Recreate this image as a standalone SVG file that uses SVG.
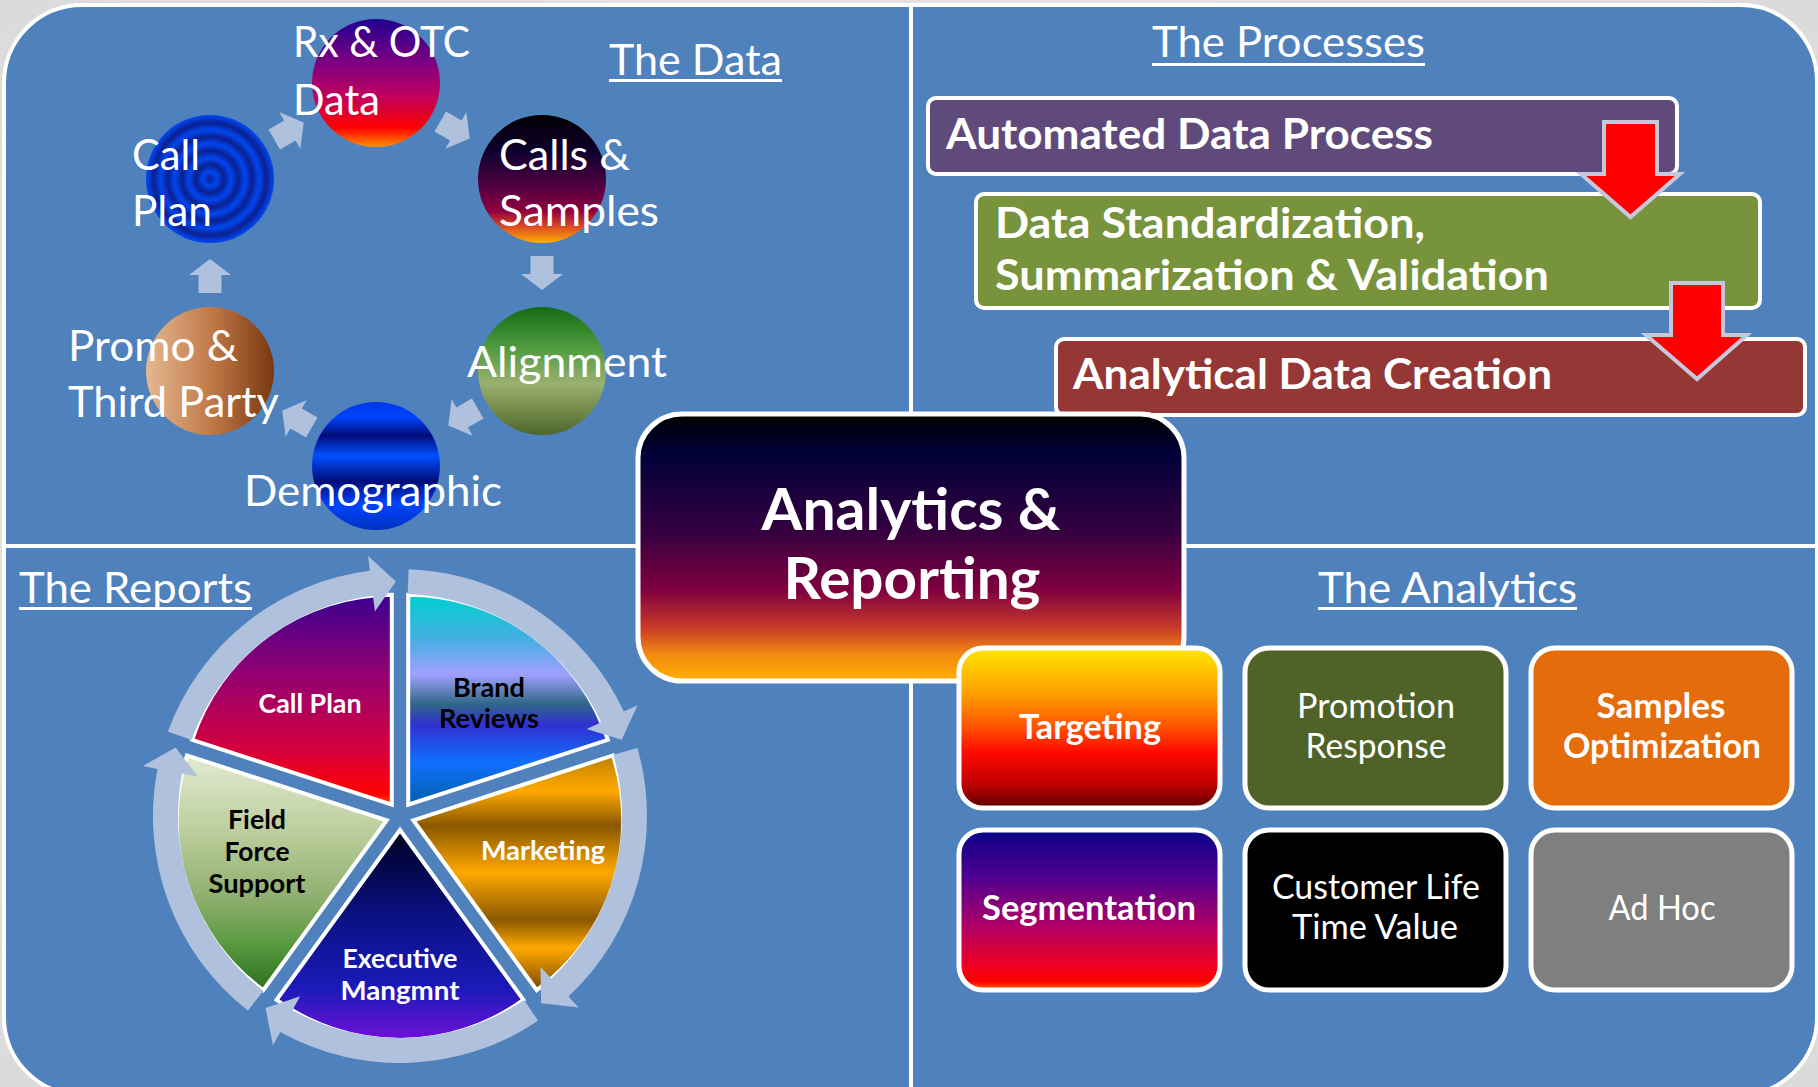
<svg xmlns="http://www.w3.org/2000/svg" width="1818" height="1087" viewBox="0 0 1818 1087">
<style>
.t{font-family:Lato,"Liberation Sans",sans-serif;fill:#fff}
.b{font-weight:bold}
.k{fill:#000}
.h{font-size:43px}
.c{font-size:42px}
.p{font-size:42px;font-weight:bold}
.a{font-size:34px}
.s{font-size:26px;font-weight:bold}
.panel{fill:#4F81BD;stroke:#fff;stroke-width:4}
.ul{stroke:#fff;stroke-width:3}
.carr{fill:#B0C1DD}
.ring{fill:#B0C1DD}
.seg{stroke:#fff;stroke-width:4}
.proc{stroke:#fff;stroke-width:4}
.rarr{fill:#FF0000;stroke:#C8C8DC;stroke-width:4}
.abox{stroke:#fff;stroke-width:5}
</style>
<defs>
<radialGradient id="bg" cx="0.5" cy="0.5" r="0.75">
<stop offset="0" stop-color="#f2f2f2"/><stop offset="1" stop-color="#d9d9d9"/>
</radialGradient>
<linearGradient id="gCentral" x1="0" y1="0" x2="0" y2="1">
<stop offset="0" stop-color="#000000"/><stop offset="0.15" stop-color="#000038"/><stop offset="0.45" stop-color="#380040"/><stop offset="0.66" stop-color="#800040"/><stop offset="0.8" stop-color="#c83a28"/><stop offset="0.9" stop-color="#f28a10"/><stop offset="1" stop-color="#ffb000"/>
</linearGradient>
<linearGradient id="gRx" x1="0" y1="0" x2="0" y2="1">
<stop offset="0" stop-color="#200090"/><stop offset="0.35" stop-color="#800080"/><stop offset="0.6" stop-color="#c00060"/><stop offset="0.85" stop-color="#ff0000"/><stop offset="1" stop-color="#ff9000"/>
</linearGradient>
<linearGradient id="gCalls" x1="0" y1="0" x2="0" y2="1">
<stop offset="0" stop-color="#000000"/><stop offset="0.3" stop-color="#100030"/><stop offset="0.55" stop-color="#500040"/><stop offset="0.75" stop-color="#900040"/><stop offset="0.88" stop-color="#e05020"/><stop offset="1" stop-color="#ffb000"/>
</linearGradient>
<linearGradient id="gAlign" x1="0" y1="0" x2="0" y2="1">
<stop offset="0" stop-color="#156a15"/><stop offset="0.3" stop-color="#4a9a3c"/><stop offset="0.6" stop-color="#9ab070"/><stop offset="1" stop-color="#4e6628"/>
</linearGradient>
<linearGradient id="gDemo" x1="0" y1="0" x2="0" y2="1">
<stop offset="0" stop-color="#0036e8"/><stop offset="0.12" stop-color="#0044ff"/><stop offset="0.26" stop-color="#000c7a"/><stop offset="0.42" stop-color="#0050ff"/><stop offset="0.62" stop-color="#000c7a"/><stop offset="0.8" stop-color="#0044ff"/><stop offset="1" stop-color="#0030c0"/>
</linearGradient>
<linearGradient id="gPromo" x1="0" y1="0" x2="1" y2="0">
<stop offset="0" stop-color="#e4b890"/><stop offset="0.5" stop-color="#c27a4a"/><stop offset="1" stop-color="#783810"/>
</linearGradient>
<radialGradient id="gCallPlan" cx="0.5" cy="0.5" r="0.055" spreadMethod="reflect">
<stop offset="0" stop-color="#0a2090"/><stop offset="1" stop-color="#0046f0"/>
</radialGradient>
<linearGradient id="gTarget" x1="0" y1="0" x2="0" y2="1">
<stop offset="0" stop-color="#ffe800"/><stop offset="0.3" stop-color="#ff9a00"/><stop offset="0.5" stop-color="#ff5000"/><stop offset="0.65" stop-color="#ff0a00"/><stop offset="0.85" stop-color="#c00000"/><stop offset="1" stop-color="#5a0000"/>
</linearGradient>
<linearGradient id="gSeg" x1="0" y1="0" x2="0" y2="1">
<stop offset="0" stop-color="#0a0088"/><stop offset="0.3" stop-color="#500090"/><stop offset="0.6" stop-color="#b00066"/><stop offset="0.85" stop-color="#f00020"/><stop offset="0.95" stop-color="#ff0000"/><stop offset="1" stop-color="#ff7000"/>
</linearGradient>
<linearGradient id="pCall" x1="0" y1="0" x2="0" y2="1">
<stop offset="0" stop-color="#3a0090"/><stop offset="0.4" stop-color="#980070"/><stop offset="0.75" stop-color="#d8003a"/><stop offset="0.95" stop-color="#ff0000"/><stop offset="1" stop-color="#ff5000"/>
</linearGradient>
<linearGradient id="pBrand" x1="0" y1="0" x2="0" y2="1">
<stop offset="0" stop-color="#00d0d0"/><stop offset="0.2" stop-color="#40b0e0"/><stop offset="0.38" stop-color="#a0a0ff"/><stop offset="0.52" stop-color="#306888"/><stop offset="0.62" stop-color="#3030d0"/><stop offset="0.8" stop-color="#1070ff"/><stop offset="1" stop-color="#0060a8"/>
</linearGradient>
<linearGradient id="pMkt" x1="0" y1="0" x2="0" y2="1">
<stop offset="0" stop-color="#c08000"/><stop offset="0.15" stop-color="#ffa800"/><stop offset="0.3" stop-color="#8a5800"/><stop offset="0.5" stop-color="#ffa800"/><stop offset="0.7" stop-color="#8a5800"/><stop offset="0.82" stop-color="#ffa800"/><stop offset="1" stop-color="#7a4a00"/>
</linearGradient>
<linearGradient id="pExec" x1="0" y1="0" x2="0" y2="1">
<stop offset="0" stop-color="#000020"/><stop offset="0.4" stop-color="#0a1080"/><stop offset="0.75" stop-color="#1a1ab8"/><stop offset="1" stop-color="#7010d8"/>
</linearGradient>
<linearGradient id="pField" x1="0" y1="0" x2="0" y2="1">
<stop offset="0" stop-color="#e2ead2"/><stop offset="0.3" stop-color="#bfd0a0"/><stop offset="0.6" stop-color="#90b070"/><stop offset="0.8" stop-color="#5a9a40"/><stop offset="1" stop-color="#2a7020"/>
</linearGradient>
<path id="upArrow" d="M0,-17 L21,-1 L11.5,-1 L11.5,17 L-11.5,17 L-11.5,-1 L-21,-1 Z"/>
</defs>

<rect x="0" y="0" width="1818" height="1087" fill="url(#bg)"/>

<g id="panels">
<path id="panel-tl" class="panel" d="M4,83 A78,78 0 0 1 82,5 L911,5 L911,546 L4,546 Z"/>
<path id="panel-tr" class="panel" d="M911,5 L1741,5 A76,76 0 0 1 1817,81 L1817,546 L911,546 Z"/>
<path id="panel-bl" class="panel" d="M4,546 L911,546 L911,1095 L82,1095 A78,78 0 0 1 4,1017 Z"/>
<path id="panel-br" class="panel" d="M911,546 L1817,546 L1817,1017 A78,78 0 0 1 1739,1095 L911,1095 Z"/>
</g>

<g id="connectors">
<use href="#upArrow" class="carr" transform="translate(289,131) rotate(60)"/>
<use href="#upArrow" class="carr" transform="translate(455,130) rotate(120)"/>
<use href="#upArrow" class="carr" transform="translate(542,273) rotate(180)"/>
<use href="#upArrow" class="carr" transform="translate(463,417) rotate(240)"/>
<use href="#upArrow" class="carr" transform="translate(297,419) rotate(300)"/>
<use href="#upArrow" class="carr" transform="translate(210,276)"/>
</g>

<g id="the-data-title">
<text class="t h" x="609" y="75" textLength="173" lengthAdjust="spacingAndGlyphs">The Data</text>
<line class="ul" x1="609" y1="80.5" x2="782" y2="80.5"/>
</g>
<g id="node-rx">
<circle cx="376" cy="83" r="64" fill="url(#gRx)"/>
<text class="t c" x="293" y="57" textLength="177" lengthAdjust="spacingAndGlyphs">Rx &amp; OTC</text>
<text class="t c" x="293" y="115" textLength="87" lengthAdjust="spacingAndGlyphs">Data</text>
</g>
<g id="node-calls">
<circle cx="542" cy="179" r="64" fill="url(#gCalls)"/>
<text class="t c" x="499" y="170" textLength="131" lengthAdjust="spacingAndGlyphs">Calls &amp;</text>
<text class="t c" x="499" y="226" textLength="160" lengthAdjust="spacingAndGlyphs">Samples</text>
</g>
<g id="node-alignment">
<circle cx="542" cy="371" r="64" fill="url(#gAlign)"/>
<text class="t c" x="467" y="377" textLength="200" lengthAdjust="spacingAndGlyphs">Alignment</text>
</g>
<g id="node-demographic">
<circle cx="376" cy="466" r="64" fill="url(#gDemo)"/>
<text class="t c" x="244" y="506" textLength="258" lengthAdjust="spacingAndGlyphs">Demographic</text>
</g>
<g id="node-promo">
<circle cx="210" cy="371" r="64" fill="url(#gPromo)"/>
<text class="t c" x="68" y="361" textLength="170" lengthAdjust="spacingAndGlyphs">Promo &amp;</text>
<text class="t c" x="68" y="417" textLength="211" lengthAdjust="spacingAndGlyphs">Third Party</text>
</g>
<g id="node-callplan">
<circle cx="210" cy="179" r="64" fill="url(#gCallPlan)"/>
<text class="t c" x="132" y="170" textLength="68" lengthAdjust="spacingAndGlyphs">Call</text>
<text class="t c" x="132" y="226" textLength="80" lengthAdjust="spacingAndGlyphs">Plan</text>
</g>

<g id="processes-title">
<text class="t h" x="1152" y="57" textLength="273" lengthAdjust="spacingAndGlyphs">The Processes</text>
<line class="ul" x1="1152" y1="64.5" x2="1425" y2="64.5"/>
</g>
<g id="proc-automated">
<rect class="proc" x="928" y="98" width="749" height="76" rx="8" fill="#604A7B"/>
<text class="t p" x="946" y="149" textLength="487" lengthAdjust="spacingAndGlyphs">Automated Data Process</text>
</g>
<g id="proc-standard">
<rect class="proc" x="976" y="194" width="784" height="114" rx="8" fill="#77933C"/>
<text class="t p" x="995" y="238" textLength="430" lengthAdjust="spacingAndGlyphs">Data Standardization,</text>
<text class="t p" x="995" y="290" textLength="554" lengthAdjust="spacingAndGlyphs">Summarization &amp; Validation</text>
</g>
<path id="red-arrow-1" class="rarr" d="M1604,122 L1657,122 L1657,174 L1680,174 L1630.5,217 L1581,174 L1604,174 Z"/>
<g id="proc-analytical">
<rect class="proc" x="1056" y="339" width="749" height="76" rx="8" fill="#953735"/>
<text class="t p" x="1073" y="389" textLength="479" lengthAdjust="spacingAndGlyphs">Analytical Data Creation</text>
</g>
<path id="red-arrow-2" class="rarr" d="M1671,283 L1723,283 L1723,335 L1747,335 L1697,379 L1646,335 L1671,335 Z"/>

<g id="reports-title">
<text class="t h" x="19" y="603" textLength="233" lengthAdjust="spacingAndGlyphs">The Reports</text>
<line class="ul" x1="19" y1="608.5" x2="252" y2="608.5"/>
</g>
<g id="pie">
<g id="seg-callplan">
<path class="seg" fill="url(#pCall)" d="M391.8,804.7 L192.1,739.8 A210,210 0 0 1 391.8,594.7 Z"/>
<text class="t s" x="310" y="713" text-anchor="middle" textLength="103" lengthAdjust="spacingAndGlyphs">Call Plan</text>
</g>
<g id="seg-brand">
<path class="seg" fill="url(#pBrand)" d="M408.2,804.7 L408.2,594.7 A210,210 0 0 1 607.9,739.8 Z"/>
<text class="t s k" x="489" y="697" text-anchor="middle" textLength="72" lengthAdjust="spacingAndGlyphs">Brand</text>
<text class="t s k" x="489" y="728" text-anchor="middle" textLength="100" lengthAdjust="spacingAndGlyphs">Reviews</text>
</g>
<g id="seg-marketing">
<path class="seg" fill="url(#pMkt)" d="M413.3,820.3 L613,755.4 A210,210 0 0 1 536.7,990.2 Z"/>
<text class="t s" x="543" y="860" text-anchor="middle" textLength="124" lengthAdjust="spacingAndGlyphs">Marketing</text>
</g>
<g id="seg-executive">
<path class="seg" fill="url(#pExec)" d="M400,830 L523.4,999.9 A210,210 0 0 1 276.6,999.9 Z"/>
<text class="t s" x="400" y="968" text-anchor="middle" textLength="115" lengthAdjust="spacingAndGlyphs">Executive</text>
<text class="t s" x="400" y="1000" text-anchor="middle" textLength="119" lengthAdjust="spacingAndGlyphs">Mangmnt</text>
</g>
<g id="seg-field">
<path class="seg" fill="url(#pField)" d="M386.7,820.3 L263.3,990.2 A210,210 0 0 1 187,755.4 Z"/>
<text class="t s k" x="257" y="829" text-anchor="middle" textLength="58" lengthAdjust="spacingAndGlyphs">Field</text>
<text class="t s k" x="257" y="861" text-anchor="middle" textLength="65" lengthAdjust="spacingAndGlyphs">Force</text>
<text class="t s k" x="257" y="893" text-anchor="middle" textLength="97" lengthAdjust="spacingAndGlyphs">Support</text>
</g>
<g id="ring-arrows">
<path class="ring" d="M167.9,731.5 A247,247 0 0 1 369.9,570.8 L368.1,556 L395.9,581.5 L374.9,611.5 L372.9,595.7 A222,222 0 0 0 191.4,740.1 Z"/>
<path class="ring" d="M408.6,569.2 A247,247 0 0 1 623.9,711.6 L637.5,705.3 L621.7,739.7 L586.7,728.9 L601.2,722.2 A222,222 0 0 0 407.7,594.1 Z"/>
<path class="ring" d="M637.4,747.9 A247,247 0 0 1 568.5,996.6 L578.7,1007.6 L541.1,1003.3 L540.5,966.7 L551.4,978.4 A222,222 0 0 0 613.4,754.8 Z"/>
<path class="ring" d="M538.1,1020.8 A247,247 0 0 1 280.3,1032 L273,1045.2 L265.5,1008.1 L300.1,996.2 L292.4,1010.2 A222,222 0 0 0 524.1,1000 Z"/>
<path class="ring" d="M247.9,1010.6 A247,247 0 0 1 157.5,768.9 L142.8,766 L175.7,747.4 L197.8,776.7 L182.1,773.6 A222,222 0 0 0 263.3,990.9 Z"/>
</g>
</g>

<g id="central">
<rect x="638" y="414" width="546" height="267" rx="44" fill="url(#gCentral)" stroke="#fff" stroke-width="5"/>
<text class="t b" x="911" y="530" font-size="58" text-anchor="middle" textLength="299" lengthAdjust="spacingAndGlyphs">Analytics &amp;</text>
<text class="t b" x="912" y="599" font-size="58" text-anchor="middle" textLength="257" lengthAdjust="spacingAndGlyphs">Reporting</text>
</g>

<g id="analytics-title">
<text class="t h" x="1318" y="603" textLength="259" lengthAdjust="spacingAndGlyphs">The Analytics</text>
<line class="ul" x1="1318" y1="608.5" x2="1577" y2="608.5"/>
</g>
<g id="box-targeting">
<rect class="abox" x="959" y="648" width="261" height="160" rx="24" fill="url(#gTarget)"/>
<text class="t a b" x="1090" y="739" text-anchor="middle" textLength="142" lengthAdjust="spacingAndGlyphs">Targeting</text>
</g>
<g id="box-promotion">
<rect class="abox" x="1245" y="648" width="261" height="160" rx="24" fill="#4F6228"/>
<text class="t a" x="1376" y="718" text-anchor="middle" textLength="158" lengthAdjust="spacingAndGlyphs">Promotion</text>
<text class="t a" x="1376" y="758" text-anchor="middle" textLength="141" lengthAdjust="spacingAndGlyphs">Response</text>
</g>
<g id="box-samples">
<rect class="abox" x="1531" y="648" width="261" height="160" rx="24" fill="#E46C0A"/>
<text class="t a b" x="1661" y="718" text-anchor="middle" textLength="129" lengthAdjust="spacingAndGlyphs">Samples</text>
<text class="t a b" x="1662" y="758" text-anchor="middle" textLength="198" lengthAdjust="spacingAndGlyphs">Optimization</text>
</g>
<g id="box-segmentation">
<rect class="abox" x="959" y="830" width="261" height="160" rx="24" fill="url(#gSeg)"/>
<text class="t a b" x="1089" y="920" text-anchor="middle" textLength="214" lengthAdjust="spacingAndGlyphs">Segmentation</text>
</g>
<g id="box-clv">
<rect class="abox" x="1245" y="830" width="261" height="160" rx="24" fill="#000000"/>
<text class="t a" x="1376" y="899" text-anchor="middle" textLength="208" lengthAdjust="spacingAndGlyphs">Customer Life</text>
<text class="t a" x="1375" y="939" text-anchor="middle" textLength="166" lengthAdjust="spacingAndGlyphs">Time Value</text>
</g>
<g id="box-adhoc">
<rect class="abox" x="1531" y="830" width="261" height="160" rx="24" fill="#7F7F7F"/>
<text class="t a" x="1662" y="920" text-anchor="middle" textLength="107" lengthAdjust="spacingAndGlyphs">Ad Hoc</text>
</g>
</svg>
